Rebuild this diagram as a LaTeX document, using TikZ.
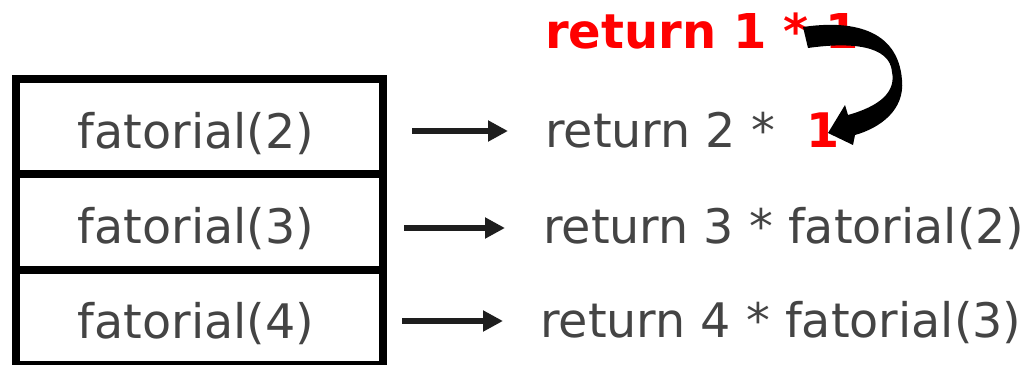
\documentclass[tikz,border=0pt]{standalone}
\usepackage{fontspec}
\setmainfont{DejaVu Sans}
\usetikzlibrary{arrows.meta,calc}
\definecolor{txt}{HTML}{444444}
\definecolor{arrc}{HTML}{1E1E1E}
\begin{document}
\begin{tikzpicture}[x=1pt,y=-1pt,
  cell/.style={draw=black,line width=8pt,minimum width=367pt,inner sep=0pt,outer sep=0pt},
  lbl/.style={anchor=base,inner sep=0pt,text=txt,font=\fontsize{47.6}{56}\selectfont},
  ret/.style={anchor=base west,inner sep=0pt,text=txt,font=\fontsize{47.6}{56}\selectfont},
  arr/.style={draw=arrc,line width=6pt,-{Triangle[length=20pt,width=20pt]}}]
\useasboundingbox (0,0) rectangle (1030,364);
\clip (0,0) rectangle (1030,364);
% stack cells
\node[cell,minimum height=95pt] (c2) at (199.5,126.5) {};
\node[cell,minimum height=96pt] (c3) at (199.5,222) {};
\node[cell,minimum height=95pt] (c4) at (199.5,317.5) {};
\node[lbl] (f2) at (196,148) {fatorial(2)};
\node[lbl] (f3) at (196,243) {fatorial(3)};
\node[lbl] (f4) at (196,338) {fatorial(4)};
% right texts
\node[ret,text=red,font=\fontsize{48}{56}\selectfont\bfseries] (top) at (545,48) {return 1 * 1};
\node[ret] (r2) at (545,147) {return 2 *\hspace{31pt}{\color{red}\bfseries 1}};
\node[ret] (r3) at (543,243) {return 3 * fatorial(2)};
\node[ret] (r4) at (540,337) {return 4 * fatorial(3)};
% arrows
\draw[arr] ($(c2.east |- r2.base)+(29,-16)$) -- ($(r2.base west)+(-37,-16)$);
\draw[arr] ($(c3.east |- r3.base)+(21,-15)$) -- ($(r3.base west)+(-38,-15)$);
\draw[arr] ($(c4.east |- r4.base)+(19,-16)$) -- ($(r4.base west)+(-37,-16)$);
% curved arrow
\fill[black] (803,27) .. controls (850,20) and (898,28) .. (902,80)
  .. controls (905,110) and (880,128) .. (855,135)
  -- (853,145) -- (828,133) -- (845,105) -- (848,115)
  .. controls (880,106) and (896,92) .. (892,72)
  .. controls (890,45) and (850,42) .. (808,48) -- cycle;
\end{tikzpicture}
\end{document}
